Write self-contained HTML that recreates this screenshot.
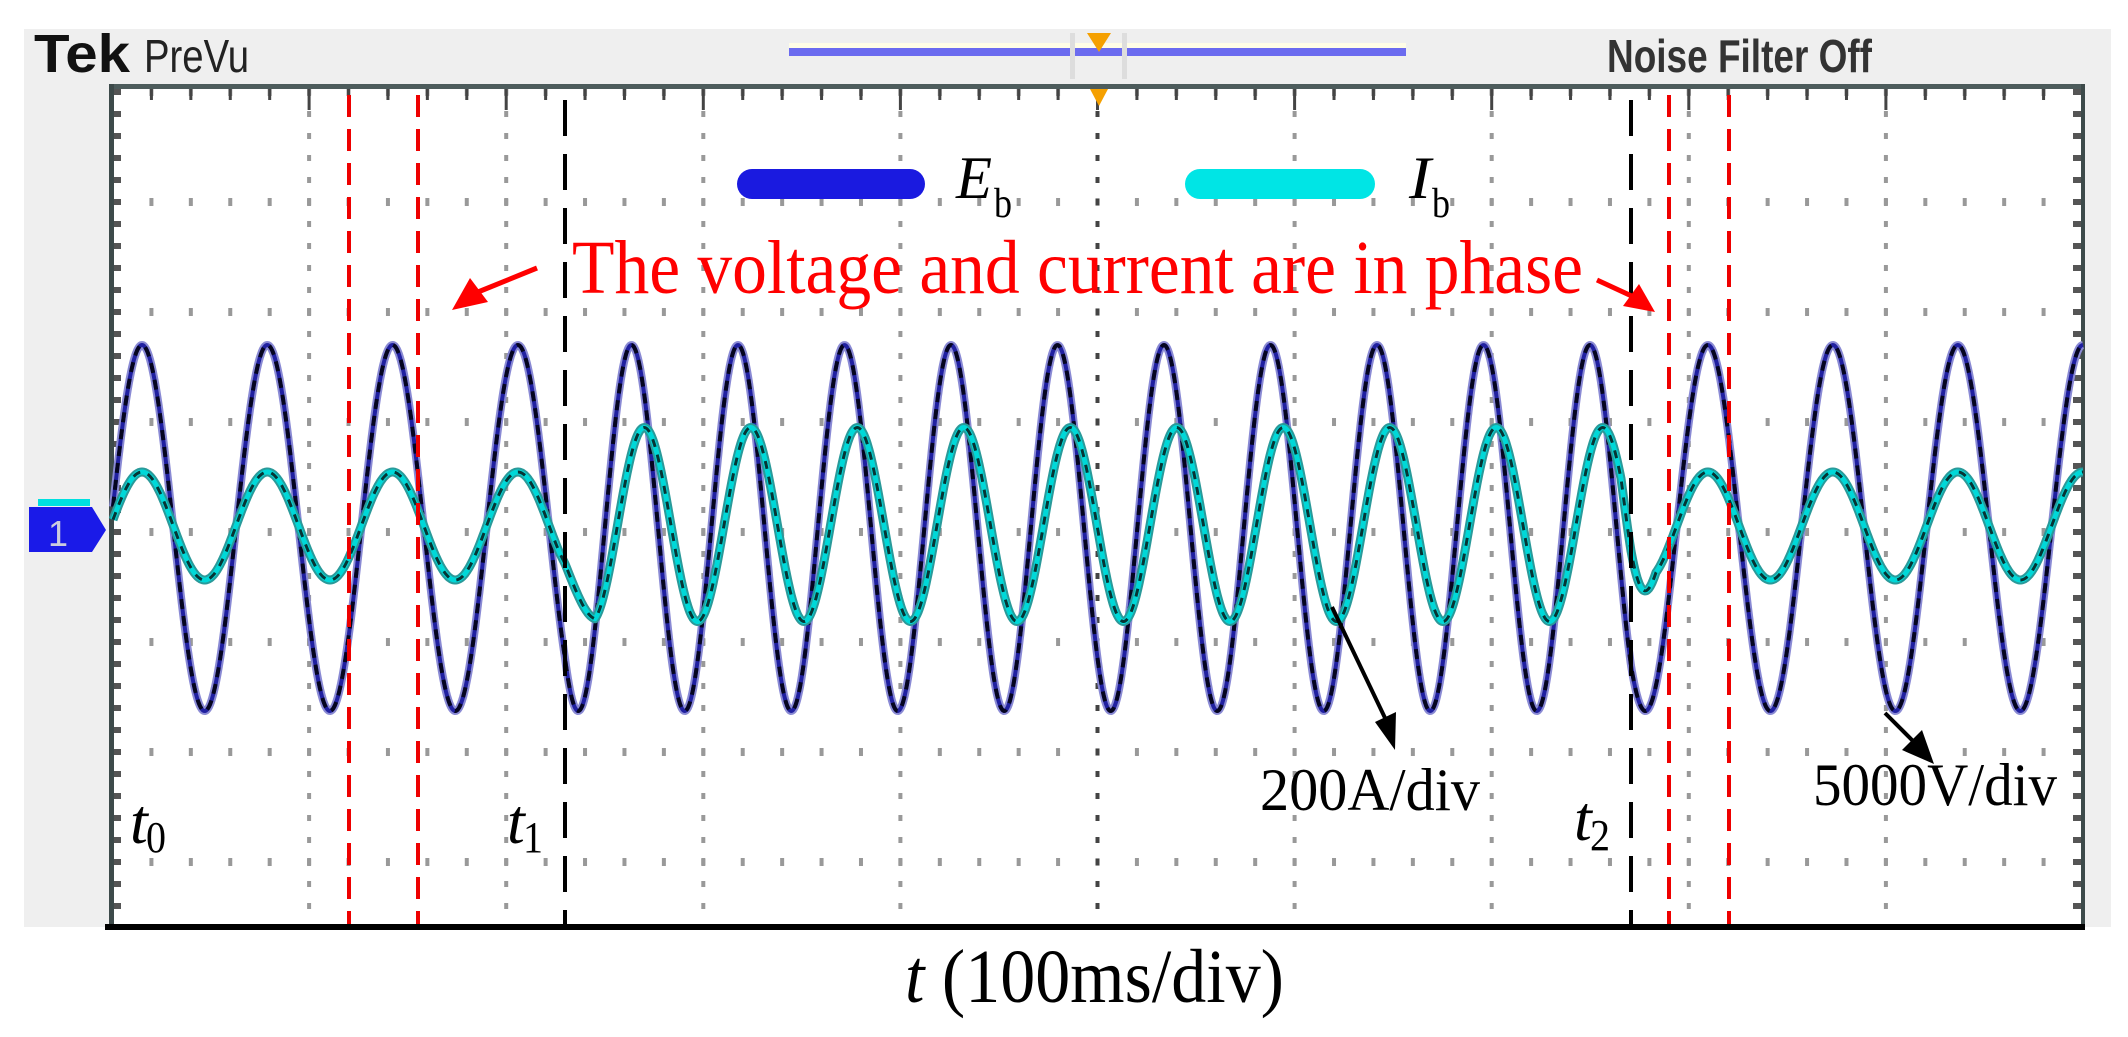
<!DOCTYPE html>
<html><head><meta charset="utf-8"><style>
html,body{margin:0;padding:0;background:#fff;}
svg{display:block;}
</style></head><body>
<svg id="s" width="2128" height="1037" viewBox="0 0 2128 1037" xmlns="http://www.w3.org/2000/svg">
<rect x="0" y="0" width="2128" height="1037" fill="#fff"/>
<rect x="24" y="29" width="2087" height="898" fill="#efefef"/>
<rect x="112" y="86" width="1971" height="841" fill="#fff"/>
<!-- top bar -->
<text x="34" y="72" font-family="Liberation Sans, sans-serif" font-weight="bold" font-size="54" fill="#111" textLength="96" lengthAdjust="spacingAndGlyphs">Tek</text>
<text x="144" y="72" font-family="Liberation Sans, sans-serif" font-size="46" fill="#222" textLength="105" lengthAdjust="spacingAndGlyphs">PreVu</text>
<rect x="789" y="43" width="617" height="5" fill="#fffde6"/>
<rect x="789" y="48" width="617" height="8" fill="#6b6bef"/>
<rect x="1070" y="33" width="5" height="46" fill="#ddd"/><rect x="1122" y="33" width="5" height="46" fill="#ddd"/>
<polygon points="1087,33 1111,33 1099,52" fill="#f5a000"/>
<text x="1607" y="72" font-family="Liberation Sans, sans-serif" font-weight="bold" font-size="46" fill="#333" textLength="265" lengthAdjust="spacingAndGlyphs">Noise Filter Off</text>
<g id="grid"></g>
<!-- borders -->
<rect x="110" y="84" width="1975" height="5" fill="#4d5c5c"/>
<rect x="109" y="84" width="5" height="843" fill="#3d4a4a"/>
<rect x="2081" y="84" width="4" height="843" fill="#3d4a4a"/>
<polygon points="1090,89 1108,89 1099,106" fill="#f5a000"/>
<!-- marker 1 -->
<rect x="38" y="499" width="52" height="7" fill="#00e0e0"/>
<polygon points="29,507 92,507 106,530 92,552 29,552" fill="#1a1ae8"/>
<text x="48" y="546" font-family="Liberation Sans, sans-serif" font-size="36" fill="#ccd" >1</text>
<g id="traces"></g>
<!-- dashed vertical lines -->
<g stroke="#e00" stroke-width="4" stroke-dasharray="22,12">
<line x1="349" y1="95" x2="349" y2="927"/><line x1="418" y1="95" x2="418" y2="927"/>
<line x1="1669" y1="95" x2="1669" y2="927"/><line x1="1729" y1="95" x2="1729" y2="927"/>
</g>
<g stroke="#000" stroke-width="4" stroke-dasharray="36,18">
<line x1="565" y1="100" x2="565" y2="927"/><line x1="1631" y1="100" x2="1631" y2="927"/>
</g>
<rect x="105" y="924" width="1980" height="6" fill="#000"/>
<!-- legend -->
<rect x="737" y="169" width="188" height="30" rx="15" fill="#1a1ae0"/>
<rect x="1185" y="169" width="190" height="30" rx="15" fill="#00e5e5"/>
<text x="956" y="198" font-family="Liberation Serif, serif" font-style="italic" font-size="60" textLength="36" lengthAdjust="spacingAndGlyphs">E</text>
<text x="994" y="217" font-family="Liberation Serif, serif" font-size="42" textLength="18" lengthAdjust="spacingAndGlyphs">b</text>
<text x="1409" y="198" font-family="Liberation Serif, serif" font-style="italic" font-size="60" textLength="22" lengthAdjust="spacingAndGlyphs">I</text>
<text x="1432" y="217" font-family="Liberation Serif, serif" font-size="42" textLength="18" lengthAdjust="spacingAndGlyphs">b</text>
<text x="572" y="293" font-family="Liberation Serif, serif" font-size="76" fill="#f00" textLength="1011" lengthAdjust="spacingAndGlyphs">The voltage and current are in phase</text>
<!-- red arrows -->
<line x1="537" y1="268" x2="478" y2="292" stroke="#f00" stroke-width="5"/>
<polygon points="452,310 470,278 488,302" fill="#f00"/>
<line x1="1597" y1="280" x2="1636" y2="298" stroke="#f00" stroke-width="5"/>
<polygon points="1655,312 1623,306 1639,284" fill="#f00"/>
<!-- black arrows -->
<line x1="1332" y1="607" x2="1386" y2="720" stroke="#000" stroke-width="4"/>
<polygon points="1395,750 1375,722 1396,712" fill="#000"/>
<line x1="1885" y1="713" x2="1917" y2="745" stroke="#000" stroke-width="4"/>
<polygon points="1934,764 1902,750 1922,730" fill="#000"/>
<!-- labels -->
<g font-family="Liberation Serif, serif" fill="#000">
<text x="1260" y="810" font-size="60" textLength="220" lengthAdjust="spacingAndGlyphs">200A/div</text>
<text x="1813" y="805" font-size="60" textLength="244" lengthAdjust="spacingAndGlyphs">5000V/div</text>
<text x="130" y="843" font-size="64" font-style="italic">t</text><text x="146" y="852" font-size="44" textLength="20" lengthAdjust="spacingAndGlyphs">0</text>
<text x="507" y="843" font-size="64" font-style="italic">t</text><text x="523" y="852" font-size="44" textLength="20" lengthAdjust="spacingAndGlyphs">1</text>
<text x="1574" y="840" font-size="64" font-style="italic">t</text><text x="1590" y="850" font-size="44" textLength="20" lengthAdjust="spacingAndGlyphs">2</text>
<text x="905" y="1002" font-size="76" textLength="379" lengthAdjust="spacingAndGlyphs"><tspan font-style="italic">t</tspan> (100ms/div)</text>
</g>
</svg>
<script>
(function(){
var NS="http://www.w3.org/2000/svg";
var g=document.getElementById("grid"),t=document.getElementById("traces");
function r(x,y,w,h,c){var e=document.createElementNS(NS,"rect");e.setAttribute("x",x);e.setAttribute("y",y);e.setAttribute("width",w);e.setAttribute("height",h);e.setAttribute("fill",c);g.appendChild(e);}
var x0=112,dx=197.1,y0=92,dy=110;
for(var k=0;k<8;k++){var y=y0+k*dy;for(var i=1;i<50;i++){var x=x0+i*dx/5;r(x-2,y-4,4,8,"#999");}}
for(var j=1;j<10;j++){var x=x0+j*dx;for(var i=0;i<40;i++){var y=y0+i*dy/5;if(y>925)break;r(x-2,y-3,4,6,j==5?"#444":"#999");}}
for(var i=0;i<40;i++){var y=y0+i*dy/5;if(y>925)break;r(113,y-3,8,6,"#555");r(2073,y-3,9,6,"#555");}
for(var i=1;i<50;i++){var x=x0+i*dx/5;r(x-1.5,88,3,i%5==0?22:12,"#444");}
var cA=565,cB=1631;
function cyc(x){var a=(cA-142)/125.3,b=a+(cB-cA)/106.5;
 if(x<cA)return (x-142)/125.3; if(x<cB)return a+(x-cA)/106.5; return b+(x-cB)/125;}
function ramp(x){var a=Math.min(1,Math.max(0,(x-cA+5)/35)), b=Math.min(1,Math.max(0,(cB+25-x)/35));return Math.min(a,b);}
var pv="",pi="";
for(var x=113;x<=2083;x+=1){
 var c=cyc(x);var yv=528-183*Math.cos(2*Math.PI*c);
 var m=ramp(x);var A=54+43*m,lag=0.12*m,cen=526-1.5*m;
 var yi=cen-A*Math.cos(2*Math.PI*(c-lag));
 pv+=(x==113?"M":"L")+x+" "+yv.toFixed(1);pi+=(x==113?"M":"L")+x+" "+yi.toFixed(1);}
function p(d,s,w,da){var e=document.createElementNS(NS,"path");e.setAttribute("d",d);e.setAttribute("fill","none");e.setAttribute("stroke",s);e.setAttribute("stroke-width",w);e.setAttribute("stroke-linejoin","round");if(da)e.setAttribute("stroke-dasharray",da);t.appendChild(e);}
p(pv,"#8a8ad4",8);p(pv,"#2020a0",4);p(pv,"#050520",4,"10,7");
p(pi,"#2a9a9a",9);p(pi,"#00d8d8",5);p(pi,"#053535",3,"8,8");
})();
</script>
</body></html>
